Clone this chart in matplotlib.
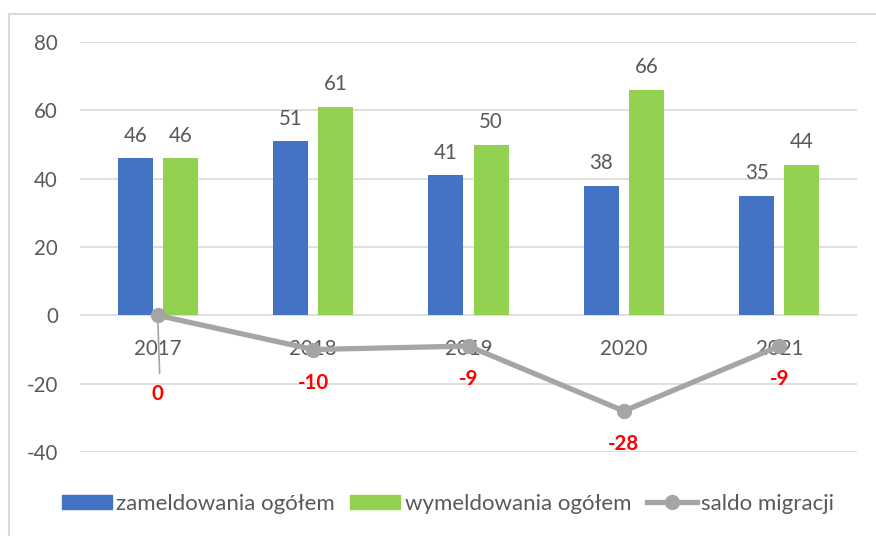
import matplotlib.pyplot as plt
from matplotlib.lines import Line2D
import numpy as np

plt.rcParams['font.family'] = ['Lato', 'DejaVu Sans']
plt.rcParams['axes.unicode_minus'] = False

years = ['2017', '2018', '2019', '2020', '2021']
zameldowania = [46, 51, 41, 38, 35]
wymeldowania = [46, 61, 50, 66, 44]
saldo = [0, -10, -9, -28, -9]

blue = '#4472C4'
green = '#92D050'
gray = '#A5A5A5'
txt = '#595959'
fs = 14.8

fig = plt.figure(figsize=(8.76, 5.36), dpi=100)
ax = fig.add_axes([80 / 876, 84 / 536, 777 / 876, 410 / 536])

x = np.arange(len(years))
w = 0.225
off = 0.145
bars1 = ax.bar(x - off, zameldowania, w, color=blue, label='zameldowania ogółem', zorder=2)
bars2 = ax.bar(x + off, wymeldowania, w, color=green, label='wymeldowania ogółem', zorder=2)

# value labels above bars
for bars in (bars1, bars2):
    for b in bars:
        ax.annotate(f"{b.get_height():.0f}", (b.get_x() + b.get_width() / 2, b.get_height()),
                    xytext=(0, 9), textcoords='offset points', ha='center', va='bottom',
                    fontsize=fs, color=txt)

ax.plot(x, saldo, color=gray, lw=3.8, marker='o', ms=10, zorder=4, solid_capstyle='round')

# saldo labels (red, bold); offsets in points below each point
label_offsets = [(0, -57), (0, -24), (0, -24), (0, -24), (0, -24)]
for i, (v, o) in enumerate(zip(saldo, label_offsets)):
    ax.annotate(f"{v}", (x[i], v), xytext=o, textcoords='offset points',
                ha='center', va='center', fontsize=fs, color='#FF0000', fontweight='bold',
                zorder=5)
# leader line for the first label
ax.annotate('', (x[0], saldo[0]), xytext=(x[0] + 0.013, saldo[0] - 17.8),
            arrowprops=dict(arrowstyle='-', color=gray, lw=1.2), zorder=3)

ax.set_xlim(-0.5, len(years) - 0.5)
ax.set_ylim(-40, 80)
ax.set_yticks(range(-40, 81, 20))
ax.yaxis.grid(True, color='#D9D9D9', lw=1.2, zorder=0)
ax.set_axisbelow(True)
for s in ax.spines.values():
    s.set_visible(False)
ax.tick_params(axis='y', length=0, pad=16, labelsize=fs, labelcolor=txt)

ax.set_xticks(x)
ax.set_xticklabels(years)
ax.spines['bottom'].set_position(('data', 0))
ax.tick_params(axis='x', length=0, pad=17, labelsize=fs, labelcolor=txt)

handles = [
    plt.Rectangle((0, 0), 1, 1, color=blue),
    plt.Rectangle((0, 0), 1, 1, color=green),
    Line2D([0], [0], color=gray, lw=3.8, marker='o', ms=10),
]
leg = fig.legend(handles, ['zameldowania ogółem', 'wymeldowania ogółem', 'saldo migracji'],
                 loc='center', bbox_to_anchor=(448 / 876, 1 - 504 / 536), ncol=3, frameon=False,
                 fontsize=16, handlelength=2.25, handleheight=0.62, handletextpad=0.2,
                 columnspacing=0.7)
for t in leg.get_texts():
    t.set_color(txt)

# chart border (left and top visible)
fig.add_artist(Line2D([8.5 / 876, 8.5 / 876], [0, 1 - 13.5 / 536], color='#D9D9D9', lw=1.5))
fig.add_artist(Line2D([8.5 / 876, 1], [1 - 13.5 / 536, 1 - 13.5 / 536], color='#D9D9D9', lw=1.5))

fig.savefig('out.png', dpi=100)
